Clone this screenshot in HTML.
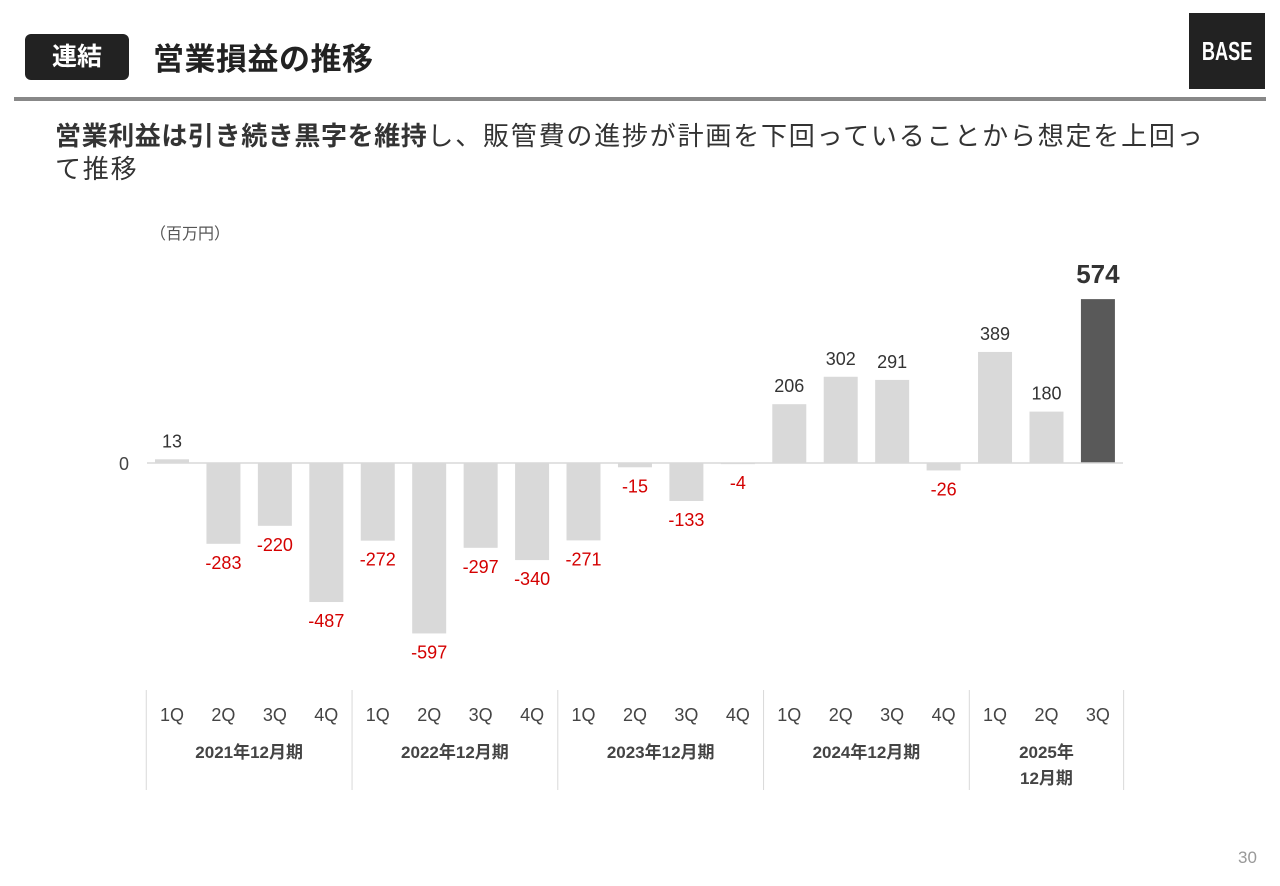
<!DOCTYPE html>
<html><head><meta charset="utf-8"><style>
body{margin:0;width:1280px;height:886px;background:#fff;font-family:"Liberation Sans","Noto Sans CJK JP",sans-serif;position:relative;overflow:hidden}
.abs{position:absolute}
</style></head><body>
<div class="abs" style="left:25px;top:34px;width:104px;height:46px;background:#222;border-radius:6px;color:#fff;font-size:25px;font-weight:bold;line-height:46px;text-align:center">連結</div>
<div class="abs" style="left:153px;top:40px;font-size:31px;letter-spacing:0.5px;font-weight:bold;color:#222;line-height:40px">営業損益の推移</div>
<div class="abs" style="left:1189px;top:13px;width:76px;height:76px;background:#222;color:#fff;font-size:26px;font-weight:bold;line-height:76px;text-align:center"><span style="display:inline-block;transform:scaleX(0.7)">BASE</span></div>
<div class="abs" style="left:14px;top:97px;width:1252px;height:4px;background:#888"></div>
<div class="abs" style="left:55px;top:120px;width:1220px;font-size:26px;letter-spacing:1.8px;line-height:33px;color:#333"><b style="letter-spacing:0.6px">営業利益は引き続き黒字を維持</b>し、販管費の進捗が計画を下回っていることから想定を上回っ<br>て推移</div>
<div class="abs" style="left:150px;top:220px;font-size:16px;color:#555">（百万円）</div>
<div class="abs" style="left:1238px;top:848px;font-size:17px;color:#999">30</div>
<svg class="abs" style="left:0;top:0" width="1280" height="886" id="chart"></svg>
<script>
const quarters=["1Q","2Q","3Q","4Q","1Q","2Q","3Q","4Q","1Q","2Q","3Q","4Q","1Q","2Q","3Q","4Q","1Q","2Q","3Q"];
const values=[13,-283,-220,-487,-272,-597,-297,-340,-271,-15,-133,-4,206,302,291,-26,389,180,574];
const fiscalYears=[["2021年12月期"],["2022年12月期"],["2023年12月期"],["2024年12月期"],["2025年","12月期"]];
const yearCounts=[4,4,4,4,3];
const svg=document.getElementById('chart');
const NS='http://www.w3.org/2000/svg';
const zeroY=463,scale=0.2855,x0=172,step=51.44,bw=34;
const xp=i=>x0+i*step;
const yp=v=>zeroY-v*scale;
function mk(t,a,txt){const e=document.createElementNS(NS,t);for(const k in a)e.setAttribute(k,a[k]);if(txt!==undefined)e.textContent=txt;svg.appendChild(e);return e;}
values.forEach((v,i)=>{
 const last=i===values.length-1;
 const r=mk('rect',{x:xp(i)-bw/2,y:Math.min(yp(v),zeroY),width:bw,height:Math.abs(v*scale),fill:last?'#595959':'#d9d9d9'});
 
 
 const ly=v>=0?yp(v)-12:yp(v)+25;
 const t=mk('text',{x:xp(i),y:last?ly-4:ly,'text-anchor':'middle','font-size':last?26:18,'font-weight':last?'bold':'normal',fill:v<0?'#d40000':'#333'},String(v));
 
 
});
const base=mk('line',{x1:147,x2:1123,y1:zeroY,y2:zeroY,stroke:'#d9d9d9','stroke-width':1.5});


const z=mk('text',{x:124,y:zeroY+7,'text-anchor':'middle','font-size':18,fill:'#444'},'0');


quarters.forEach((q,i)=>{
 const t=mk('text',{x:xp(i),y:721,'text-anchor':'middle','font-size':18,fill:'#444'},q);
 
 
});
let start=0;
const sepX=i=>xp(i)-step/2;
yearCounts.forEach((c,k)=>{
 const l=mk('line',{x1:sepX(start),x2:sepX(start),y1:690,y2:790,stroke:'#d9d9d9','stroke-width':1});
 
 
 const cx=(sepX(start)+sepX(start+c))/2;
 fiscalYears[k].forEach((s,j)=>{
  const t=mk('text',{x:cx,y:758+j*26,'text-anchor':'middle','font-size':17,'font-weight':'bold',fill:'#444'},s);
  
  
 });
 start+=c;
});
const le=mk('line',{x1:sepX(start),x2:sepX(start),y1:690,y2:790,stroke:'#d9d9d9','stroke-width':1});


</script>
</body></html>
